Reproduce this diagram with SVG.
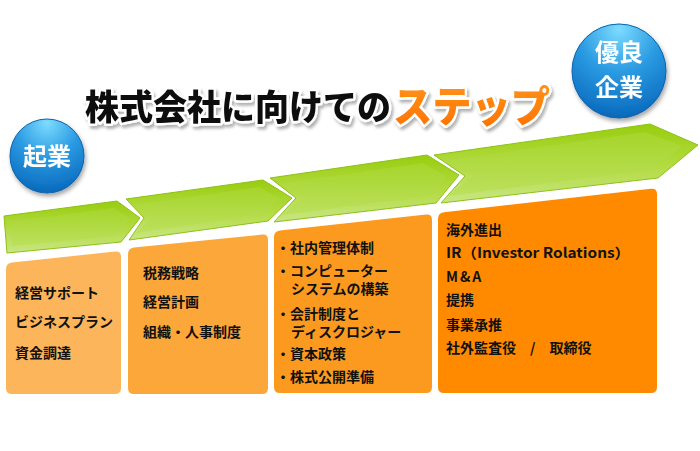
<svg xmlns="http://www.w3.org/2000/svg" width="700" height="451" viewBox="0 0 700 451">
<defs>
  <linearGradient id="gOuter" x1="0" y1="0" x2="0" y2="1">
    <stop offset="0" stop-color="#98cd0e"/>
    <stop offset="0.5" stop-color="#b2da3e"/>
    <stop offset="1" stop-color="#c8e684"/>
  </linearGradient>
  <linearGradient id="gInner" x1="0" y1="0" x2="0" y2="1">
    <stop offset="0" stop-color="#a6d52a"/>
    <stop offset="1" stop-color="#bce05e"/>
  </linearGradient>
  <radialGradient id="gBall" cx="0.5" cy="0.12" r="0.95" fx="0.5" fy="0.05">
    <stop offset="0" stop-color="#7ddcff"/>
    <stop offset="0.45" stop-color="#2b9be2"/>
    <stop offset="0.85" stop-color="#0f72c4"/>
    <stop offset="1" stop-color="#0a5ea8"/>
  </radialGradient>
  <linearGradient id="gStep" x1="0" y1="0" x2="0" y2="1">
    <stop offset="0" stop-color="#ff9a1c"/>
    <stop offset="1" stop-color="#ff6e00"/>
  </linearGradient>
  <filter id="shadow" x="-20%" y="-20%" width="140%" height="150%">
    <feDropShadow dx="1.5" dy="3" stdDeviation="2" flood-color="#000" flood-opacity="0.35"/>
  </filter>
  <filter id="tshadow" x="-5%" y="-20%" width="110%" height="150%">
    <feDropShadow dx="2" dy="3" stdDeviation="1.5" flood-color="#000" flood-opacity="0.3"/>
  </filter>
</defs>
<style>
  .outer { fill: url(#gOuter); stroke: #8cc214; stroke-width: 1; }
  .inner { fill: url(#gInner); stroke: none; }
  .t { font-family: "Noto Sans CJK JP", "Noto Sans", sans-serif; font-weight: bold; font-size: 14px; fill: #111; }
  .ball { fill: url(#gBall); stroke: #0b63ad; stroke-width: 1; }
  .bt { font-family: "Noto Sans CJK JP", "Noto Sans", sans-serif; font-weight: bold; font-size: 24px; fill: #fff; text-anchor: middle; }
  .title { font-family: "Noto Sans CJK JP", "Noto Sans", sans-serif; font-weight: 900; stroke: #fff; stroke-width: 5; stroke-linejoin: round; paint-order: stroke; }
</style>
<rect width="700" height="451" fill="#fff"/>

<g id="title" filter="url(#tshadow)">
  <text class="title" x="85" y="120" font-size="35" fill="#111" textLength="306" lengthAdjust="spacingAndGlyphs">株式会社に向けての</text>
  <text class="title" x="393" y="122" font-size="42" fill="url(#gStep)" textLength="157" lengthAdjust="spacingAndGlyphs">ステップ</text>
</g>

<g id="node-kigyo" filter="url(#shadow)">
  <circle class="ball" cx="47" cy="156" r="37"/>
  <text class="bt" x="47" y="165">起業</text>
</g>

<g id="node-yuryo" filter="url(#shadow)">
  <circle class="ball" cx="619" cy="71" r="47"/>
  <text class="bt" x="619" y="61">優良</text>
  <text class="bt" x="619" y="96">企業</text>
</g>

<g id="connectors">
  <g id="step1">
    <polygon class="outer" points="4,216 117,201 140,218 121,242 7,253"/>
    <polygon class="inner" points="10,222 114,208 130,219 116,236 12,246"/>
  </g>
  <g id="step2">
    <polygon class="outer" points="126,199 263,180 292,198 268,221 129,240 144,218"/>
    <polygon class="inner" points="134,205 259,187 280,199 263,214 136,233 151,218"/>
  </g>
  <g id="step3">
    <polygon class="outer" points="270,178 427,155 459,175 436,203 274,222 296,198"/>
    <polygon class="inner" points="279,184 423,163 446,176 431,196 281,215 304,198"/>
  </g>
  <g id="step4">
    <polygon class="outer" points="434,155 650,124 698,145 658,178 441,203 465,176"/>
    <polygon class="inner" points="443,161 645,132 682,146 652,170 448,196 473,176"/>
  </g>
</g>

<g id="box1">
  <path d="M6,269 Q6,263 12,262.4 L115,251.6 Q121,251 121,257 L121,388 Q121,394 115,394 L12,394 Q6,394 6,388 Z" fill="#fdb55b"/>
  <text class="t" x="15" y="298">経営サポート</text>
  <text class="t" x="15" y="327">ビジネスプラン</text>
  <text class="t" x="15" y="358">資金調達</text>
</g>

<g id="box2">
  <path d="M128,254 Q128,248 134,247.4 L262,234.6 Q268,234 268,240 L268,388 Q268,394 262,394 L134,394 Q128,394 128,388 Z" fill="#fca73a"/>
  <text class="t" x="143" y="278">税務戦略</text>
  <text class="t" x="143" y="307">経営計画</text>
  <text class="t" x="143" y="337">組織・人事制度</text>
</g>

<g id="box3">
  <path d="M274,237 Q274,231 280,230.4 L426,214.6 Q432,214 432,220 L432,387 Q432,393 426,393 L280,393 Q274,393 274,387 Z" fill="#fb9a1f"/>
  <text class="t" x="276" y="253">・社内管理体制</text>
  <text class="t"><tspan x="276" y="276">・コンピューター</tspan><tspan x="291" y="294">システムの構築</tspan></text>
  <text class="t"><tspan x="276" y="319">・会計制度と</tspan><tspan x="291" y="337">ディスクロジャー</tspan></text>
  <text class="t" x="276" y="359">・資本政策</text>
  <text class="t" x="276" y="382">・株式公開準備</text>
</g>

<g id="box4">
  <path d="M438,219 Q438,213 444,212.3 L651,188.7 Q657,188 657,194 L657,387 Q657,393 651,393 L444,393 Q438,393 438,387 Z" fill="#ff8a00"/>
  <text class="t" x="446" y="235">海外進出</text>
  <text class="t" x="446" y="258" textLength="184" lengthAdjust="spacingAndGlyphs">IR（Investor Rolations）</text>
  <text class="t" x="446" y="282" letter-spacing="2">M&amp;A</text>
  <text class="t" x="446" y="305">提携</text>
  <text class="t" x="446" y="330">事業承推</text>
  <text class="t" x="446" y="353">社外監査役　/　取締役</text>
</g>
</svg>
